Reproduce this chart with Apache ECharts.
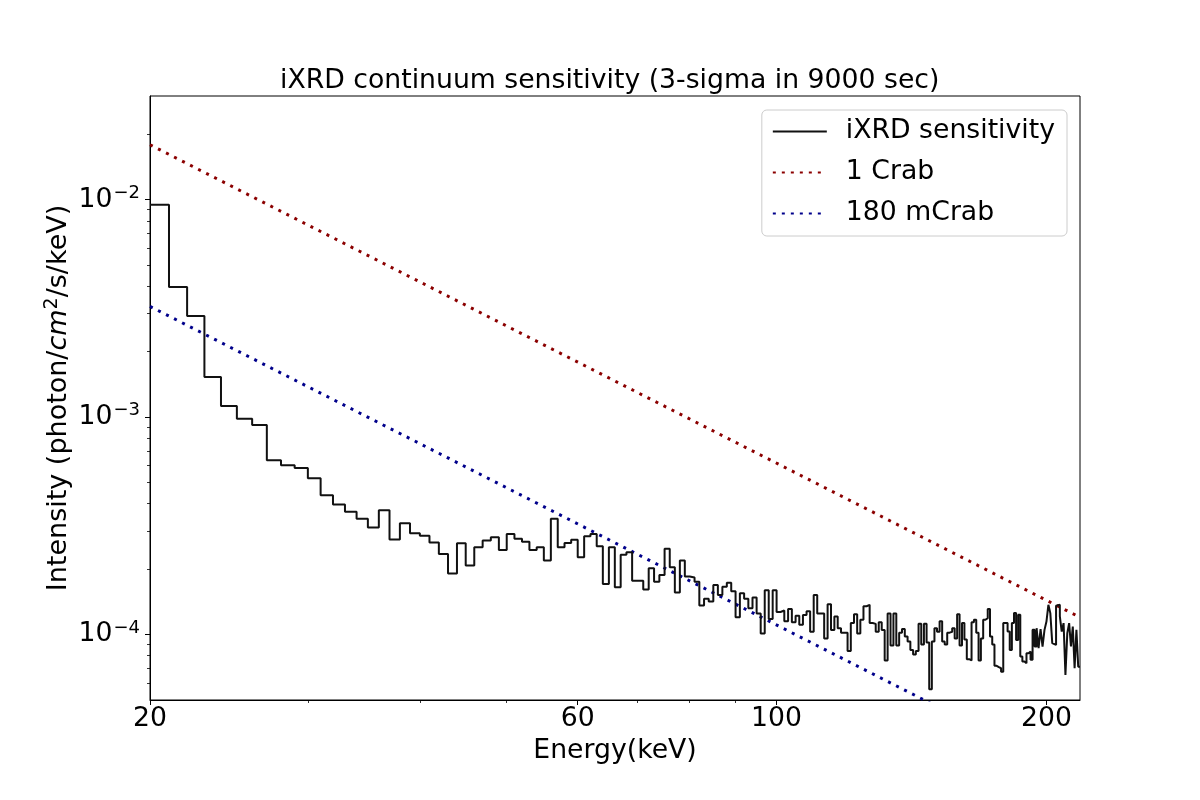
<!DOCTYPE html>
<html><head><meta charset="utf-8">
<script src="https://cdn.jsdelivr.net/npm/echarts@6/dist/echarts.min.js"></script>
<style>html,body{margin:0;padding:0;background:#fff}#c{width:1200px;height:800px}</style>
</head><body><div id="c"></div>
<script>
// Energy bins: 1 keV wide, lower edges from E_MIN, last edge E_MAX
const E_MIN = 20;
const E_MAX = 218;

// iXRD sensitivity per bin (photon/cm^2/s/keV), bins 20-21, 21-22, ... 217-218 keV
const intensity = [
  9.48e-3, 3.97e-3, 2.92e-3, 1.529e-3, 1.124e-3, 9.83e-4, 9.19e-4, 6.34e-4, 6.01e-4, 5.84e-4,
  5.24e-4, 4.37e-4, 3.96e-4, 3.67e-4, 3.41e-4, 3.11e-4, 3.73e-4, 2.74e-4, 3.25e-4, 2.92e-4,
  2.85e-4, 2.65e-4, 2.35e-4, 1.91e-4, 2.63e-4, 2.08e-4, 2.52e-4, 2.71e-4, 2.80e-4, 2.45e-4,
  2.90e-4, 2.76e-4, 2.67e-4, 2.45e-4, 2.52e-4, 2.19e-4, 3.41e-4, 2.52e-4, 2.64e-4, 2.73e-4,
  2.27e-4, 2.83e-4, 2.90e-4, 2.55e-4, 1.71e-4, 2.52e-4, 1.65e-4, 2.33e-4, 2.39e-4, 1.77e-4,
  1.77e-4, 1.61e-4, 2.02e-4, 1.75e-4, 1.88e-4, 2.48e-4, 2.04e-4, 1.56e-4, 2.19e-4, 1.85e-4,
  1.83e-4, 1.75e-4, 1.36e-4, 1.46e-4, 1.42e-4, 1.69e-4, 1.52e-4, 1.66e-4, 1.73e-4, 1.58e-4,
  1.20e-4, 1.55e-4, 1.46e-4, 1.32e-4, 1.48e-4, 1.25e-4, 1.01e-4, 1.60e-4, 1.18e-4, 1.60e-4,
  1.27e-4, 1.29e-4, 1.15e-4, 1.31e-4, 1.14e-4, 1.22e-4, 1.11e-4, 1.23e-4, 1.28e-4, 1.03e-4,
  1.52e-4, 1.25e-4, 1.25e-4, 0.96e-4, 1.38e-4, 1.05e-4, 1.21e-4, 1.07e-4, 1.02e-4, 1.02e-4,
  0.84e-4, 1.13e-4, 1.24e-4, 1.01e-4, 1.17e-4, 1.35e-4, 1.37e-4, 1.13e-4, 1.12e-4, 1.03e-4,
  1.14e-4, 1.05e-4, 0.76e-4, 1.25e-4, 0.89e-4, 1.25e-4, 0.89e-4, 1.02e-4, 1.06e-4, 0.98e-4,
  0.93e-4, 0.85e-4, 0.81e-4, 0.84e-4, 1.12e-4, 0.90e-4, 1.12e-4, 0.92e-4, 0.56e-4, 0.93e-4,
  1.07e-4, 1.03e-4, 1.15e-4, 0.93e-4, 0.90e-4, 1.02e-4, 1.03e-4, 1.07e-4, 0.96e-4, 1.24e-4,
  0.89e-4, 1.13e-4, 0.95e-4, 0.77e-4, 0.76e-4, 1.14e-4, 1.17e-4, 1.02e-4, 0.76e-4, 0.96e-4,
  1.17e-4, 1.19e-4, 1.31e-4, 0.98e-4, 0.90e-4, 0.718e-4, 0.708e-4, 0.700e-4, 0.675e-4, 1.129e-4,
  1.129e-4, 1.032e-4, 0.850e-4, 1.129e-4, 1.255e-4, 0.945e-4, 1.233e-4, 0.792e-4, 0.751e-4, 0.738e-4,
  0.821e-4, 0.835e-4, 0.765e-4, 1.051e-4, 0.881e-4, 1.070e-4, 0.866e-4, 1.059e-4, 0.881e-4, 1.051e-4,
  1.148e-4, 1.370e-4, 1.255e-4, 0.913e-4, 0.896e-4, 1.356e-4, 1.370e-4, 1.211e-4, 1.032e-4, 1.129e-4,
  0.652e-4, 1.015e-4, 1.129e-4, 0.881e-4, 1.088e-4, 0.700e-4, 1.051e-4, 0.712e-4
];

// Power-law reference spectra (straight lines in log-log), end points
const crab1 = [[20, 0.0179], [218, 1.20e-4]];
const crab180m = [[20, 0.00323], [218, 2.16e-5]];

// Axis ranges and ticks
const X_RANGE = [20, 218];
const Y_RANGE = [5e-5, 3e-2];
const xMajorTicks = [20, 60, 100, 200];
const xMinorTicks = [30, 40, 50, 70, 80, 90];
const yMajorTicks = [1e-4, 1e-3, 1e-2];
const yMinorTicks = [6e-5, 7e-5, 8e-5, 9e-5,
  2e-4, 3e-4, 4e-4, 5e-4, 6e-4, 7e-4, 8e-4, 9e-4,
  2e-3, 3e-3, 4e-3, 5e-3, 6e-3, 7e-3, 8e-3, 9e-3, 2e-2];

const FONT = 'DejaVu Sans';
const FS = 26.7;
const DOTS = [3, 6];
const stepData = intensity.map((v, i) => [E_MIN + i, v]);
stepData.push([E_MAX, intensity[intensity.length - 1]]);

const chart = echarts.init(document.getElementById('c'), null, {renderer: 'canvas'});
chart.setOption({
  animation: false,
  backgroundColor: '#fff',
  textStyle: {fontFamily: FONT, color: '#000'},
  title: {
    text: 'iXRD continuum sensitivity (3-sigma in 9000 sec)',
    left: 280, top: 68, padding: 0,
    textStyle: {fontFamily: FONT, fontSize: FS, fontWeight: 'normal', color: '#000'}
  },
  grid: {left: 150, right: 120, top: 96, bottom: 100, show: true, borderColor: '#000', borderWidth: 1, backgroundColor: 'transparent', containLabel: false},
  legend: {
    orient: 'vertical', right: 133, top: 110,
    padding: [8, 12, 9, 10], itemGap: 14, itemWidth: 54, itemHeight: 14,
    backgroundColor: 'rgba(255,255,255,0.85)', borderColor: '#cccccc', borderWidth: 1, borderRadius: 5,
    itemStyle: {opacity: 0},
    textStyle: {fontFamily: FONT, fontSize: FS, color: '#000', padding: [0, 0, 0, 14]},
    data: ['iXRD sensitivity', '1 Crab', '180 mCrab']
  },
  xAxis: [{
    type: 'log', logBase: 10, min: X_RANGE[0], max: X_RANGE[1],
    name: 'Energy(keV)', nameLocation: 'middle', nameGap: 38, nameMoveOverlap: false,
    nameTextStyle: {fontFamily: FONT, fontSize: FS, color: '#000'},
    axisLine: {show: true, lineStyle: {color: '#000', width: 1}},
    axisTick: {show: true, customValues: xMajorTicks, length: 5, lineStyle: {color: '#000', width: 1}},
    axisLabel: {show: true, customValues: xMajorTicks, margin: 6, fontFamily: FONT, fontSize: FS, color: '#000',
      formatter: v => String(Math.round(v))},
    splitLine: {show: false}, minorTick: {show: false}
  }, {
    type: 'log', logBase: 10, min: X_RANGE[0], max: X_RANGE[1], position: 'bottom',
    axisLine: {show: false},
    axisTick: {show: true, customValues: xMinorTicks, length: 3, lineStyle: {color: '#000', width: 0.8}},
    axisLabel: {show: false}, splitLine: {show: false}
  }],
  yAxis: [{
    type: 'log', logBase: 10, min: Y_RANGE[0], max: Y_RANGE[1],
    name: 'Intensity (photon/{i|cm}{p|2}/s/keV)', nameLocation: 'middle', nameGap: 76, nameRotate: 90,
    nameMoveOverlap: false,
    nameTextStyle: {fontFamily: FONT, fontSize: 27, color: '#000',
      rich: {
        i: {fontFamily: FONT, fontSize: 27, fontStyle: 'italic', color: '#000'},
        p: {fontFamily: FONT, fontSize: 19, color: '#000', padding: [0, 0, 12, 0]}
      }},
    axisLine: {show: true, lineStyle: {color: '#000', width: 1}},
    axisTick: {show: true, customValues: yMajorTicks, length: 5, lineStyle: {color: '#000', width: 1}},
    axisLabel: {show: true, customValues: yMajorTicks, margin: 10, color: '#000',
      formatter: v => {
        const e = Math.round(Math.log10(v));
        return '{b|10}{s|' + (e < 0 ? '\u2212' : '') + Math.abs(e) + '}';
      },
      rich: {
        b: {fontFamily: FONT, fontSize: FS, color: '#000'},
        s: {fontFamily: FONT, fontSize: 18, color: '#000', padding: [0, 0, 13, 1]}
      }},
    splitLine: {show: false}, minorTick: {show: false}
  }, {
    type: 'log', logBase: 10, min: Y_RANGE[0], max: Y_RANGE[1], position: 'left',
    axisLine: {show: false},
    axisTick: {show: true, customValues: yMinorTicks, length: 3, lineStyle: {color: '#000', width: 0.8}},
    axisLabel: {show: false}, splitLine: {show: false}
  }],
  series: [{
    name: 'iXRD sensitivity', type: 'line', step: 'end', data: stepData,
    xAxisIndex: 0, yAxisIndex: 0, showSymbol: false, symbol: 'none', clip: true,
    lineStyle: {color: '#111', width: 2}, itemStyle: {color: '#111'}, z: 3
  }, {
    name: '1 Crab', type: 'line', data: crab1,
    xAxisIndex: 0, yAxisIndex: 0, showSymbol: false, symbol: 'none', clip: true,
    lineStyle: {color: '#8b0000', width: 3, type: DOTS, cap: 'butt'}, itemStyle: {color: '#8b0000'}, z: 2
  }, {
    name: '180 mCrab', type: 'line', data: crab180m,
    xAxisIndex: 0, yAxisIndex: 0, showSymbol: false, symbol: 'none', clip: true,
    lineStyle: {color: '#00008b', width: 3, type: DOTS, cap: 'butt'}, itemStyle: {color: '#00008b'}, z: 2
  }]
});
</script>
</body></html>
